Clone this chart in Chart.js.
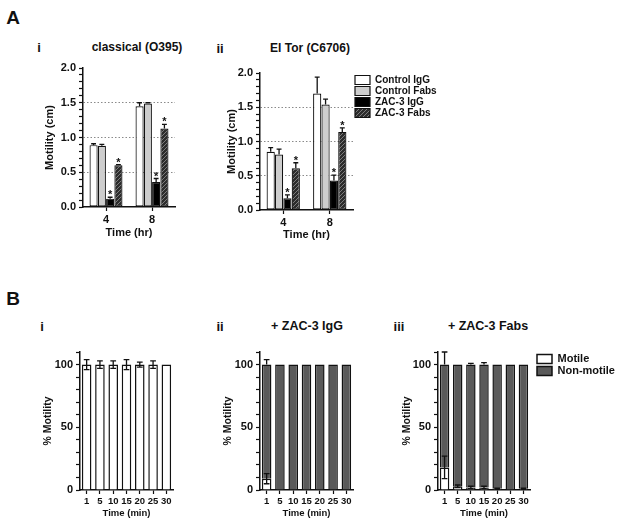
<!DOCTYPE html>
<html>
<head>
<meta charset="utf-8">
<script src="https://cdn.jsdelivr.net/npm/chart.js@4.4.1/dist/chart.umd.min.js"></script>
<style>
  body { margin: 0; background: #fff; width: 624px; height: 525px; position: relative; overflow: hidden;
         font-family: 'Liberation Sans', Arial, sans-serif; color: #111; }
  canvas { position: absolute; }
  .lbl { position: absolute; font-weight: bold; white-space: nowrap; line-height: 1; transform: translate(-50%, -50%); }
</style>
</head>
<body>
<div class="lbl" style="left:13px;top:17px;font-size:19px">A</div>
<div class="lbl" style="left:39px;top:47px;font-size:13px">i</div>
<div class="lbl" style="left:137px;top:47px;font-size:12px">classical (O395)</div>
<div class="lbl" style="left:220px;top:48px;font-size:13px">ii</div>
<div class="lbl" style="left:310px;top:48px;font-size:12px">El Tor (C6706)</div>

<div class="lbl" style="left:13px;top:298px;font-size:19px">B</div>
<div class="lbl" style="left:42px;top:326px;font-size:13px">i</div>
<div class="lbl" style="left:220px;top:326px;font-size:13px">ii</div>
<div class="lbl" style="left:307px;top:326px;font-size:12.5px">+ ZAC-3 IgG</div>
<div class="lbl" style="left:399px;top:326px;font-size:13px">iii</div>
<div class="lbl" style="left:488px;top:326px;font-size:12.5px">+ ZAC-3 Fabs</div>

<canvas id="chartAi" width="140" height="185" style="left:40px;top:58px"></canvas>
<canvas id="chartAii" width="228" height="182" style="left:217px;top:63px"></canvas>
<canvas id="chartBi" width="137" height="180" style="left:40px;top:342px"></canvas>
<canvas id="chartBii" width="137" height="180" style="left:220px;top:342px"></canvas>
<canvas id="chartBiii" width="226" height="180" style="left:398px;top:342px"></canvas>

<script>
// ---- data ----
const timeHr = ['4', '8'];

// panel A i, classical (O395)
const ctrlIgG_i = [0.89, 1.45],  ctrlIgGErr_i = [0.02, 0.05];
const ctrlFab_i = [0.88, 1.49],  ctrlFabErr_i = [0.02, 0.01];
const zacIgG_i  = [0.12, 0.36],  zacIgGErr_i  = [0.02, 0.05];
const zacFab_i  = [0.60, 1.13],  zacFabErr_i  = [0.01, 0.06];

// panel A ii, El Tor (C6706)
const ctrlIgG_ii = [0.85, 1.70], ctrlIgGErr_ii = [0.06, 0.24];
const ctrlFab_ii = [0.81, 1.54], ctrlFabErr_ii = [0.08, 0.08];
const zacIgG_ii  = [0.17, 0.43], zacIgGErr_ii  = [0.05, 0.08];
const zacFab_ii  = [0.61, 1.14], zacFabErr_ii  = [0.08, 0.06];

const timeMin = ['1', '5', '10', '15', '20', '25', '30'];

// panel B i (no antibody)
const motile_Bi    = [100, 100, 100, 100, 100, 100, 100];
const motileErr_Bi = [4, 3, 3, 4, 2, 3, 0];

// panel B ii (+ ZAC-3 IgG)
const motile_Bii       = [9, 0, 0, 0, 0, 0, 0];
const motileErr_Bii    = [4, 0, 0, 0, 0, 0, 0];
const nonMotile_Bii    = [91, 100, 100, 100, 100, 100, 100];
const nonMotileErr_Bii = [4, 0, 0, 0, 0, 0, 0];

// panel B iii (+ ZAC-3 Fabs)
const motile_Biii       = [18, 3, 2, 2, 1, 0, 1];
const motileErr_Biii    = [9, 1, 1, 1, 0.5, 0, 0.5];
const nonMotile_Biii    = [82, 97, 98, 98, 99, 100, 99];
const nonMotileErr_Biii = [10, 0, 1, 1.5, 0, 0, 0];

// ---- shared look ----
Chart.defaults.font.family = "'Liberation Sans', Arial, sans-serif";
Chart.defaults.color = '#111';
Chart.defaults.animation = false;

const INK = '#111';
const GREY_LIGHT = '#cdcdcd';
const GREY_DARK = '#5a5a5a';

function hatch(ctx) {
    const c = document.createElement('canvas');
    c.width = 4; c.height = 4;
    const g = c.getContext('2d');
    g.fillStyle = '#2c2c2c';
    g.fillRect(0, 0, 4, 4);
    g.strokeStyle = '#7c7c7c';
    g.lineWidth = 1;
    g.beginPath();
    g.moveTo(0, 4); g.lineTo(4, 0);
    g.moveTo(-1, 1); g.lineTo(1, -1);
    g.moveTo(3, 5); g.lineTo(5, 3);
    g.stroke();
    return ctx.createPattern(c, 'repeat');
}

// error bars (and significance stars) drawn from each dataset's errors
const errorBars = {
    id: 'errorBars',
    afterDatasetsDraw(chart) {
        const { ctx } = chart;
        const y = chart.scales.y;
        chart.data.datasets.forEach((ds, i) => {
            if (!ds.errors) return;
            const meta = chart.getDatasetMeta(i);
            meta.data.forEach((bar, j) => {
                const e = ds.errors[j];
                if (!e) return;
                const len = y.getPixelForValue(0) - y.getPixelForValue(e);
                const cap = bar.width * 0.3;
                const top = bar.y - len;
                const bot = ds.errBoth ? bar.y + len : bar.y;
                ctx.save();
                ctx.strokeStyle = INK;
                ctx.lineWidth = 1.3;
                ctx.beginPath();
                ctx.moveTo(bar.x, bot); ctx.lineTo(bar.x, top);
                ctx.moveTo(bar.x - cap, top); ctx.lineTo(bar.x + cap, top);
                if (ds.errBoth) { ctx.moveTo(bar.x - cap, bot); ctx.lineTo(bar.x + cap, bot); }
                ctx.stroke();
                if (ds.star) {
                    ctx.fillStyle = INK;
                    ctx.font = "bold 11px 'Liberation Sans', Arial, sans-serif";
                    ctx.textAlign = 'center';
                    ctx.fillText('*', bar.x, top + 1);
                }
                ctx.restore();
            });
        });
    }
};

// puts the legend beside the plot without shrinking it
const legendAt = {
    id: 'legendAt',
    afterLayout(chart, args, opts) {
        const lg = chart.legend;
        if (!lg || !chart.options.plugins.legend.display) return;
        const left = chart.chartArea.right + (opts.dx || 0);
        const top = chart.chartArea.top + (opts.dy || 0);
        lg.left = left; lg.right = left + 130;
        lg.top = top; lg.bottom = top + 60;
    }
};

function isHalf(v) { return Math.abs(v * 2 - Math.round(v * 2)) < 1e-6; }

function axisX(labelsFont, titleText, titleFont, height, titlePad) {
    return {
        afterFit: s => { s.height = height; },
        ticks: { color: INK, font: labelsFont, padding: 2, autoSkip: false, maxRotation: 0 },
        grid: { drawOnChartArea: false, offset: false, tickLength: 4, tickColor: INK, tickWidth: 1.2 },
        border: { color: INK, width: 1.5 },
        title: { display: true, text: titleText, color: INK, font: titleFont, padding: { top: 0, bottom: titlePad } }
    };
}

function axisYA(width, titlePad) {
    return {
        min: 0, max: 2,
        afterFit: s => { s.width = width; },
        ticks: {
            stepSize: 0.1, autoSkip: false, padding: 3, color: INK,
            font: { size: 11, weight: 'bold' },
            callback: v => isHalf(v) ? v.toFixed(1) : ''
        },
        grid: {
            color: c => [0.5, 1, 1.5].some(g => Math.abs(c.tick.value - g) < 1e-6) ? '#8a8a8a' : 'rgba(0,0,0,0)',
            lineWidth: 1, tickColor: INK, tickLength: 4, tickWidth: 1.2
        },
        border: { color: INK, width: 1.5, dash: [1.5, 2] },
        title: { display: true, text: 'Motility (cm)', color: INK, font: { size: 11, weight: 'bold' }, padding: { top: titlePad, bottom: 0 } }
    };
}

function axisYB(width, titlePad) {
    return {
        min: 0, max: 110, stacked: true,
        afterFit: s => { s.width = width; },
        ticks: {
            stepSize: 10, autoSkip: false, padding: 3, color: INK,
            font: { size: 11, weight: 'bold' },
            callback: v => (v % 50 === 0) ? String(v) : ''
        },
        grid: { drawOnChartArea: false, tickColor: INK, tickLength: 4, tickWidth: 1.2 },
        border: { color: INK, width: 1.5 },
        title: { display: true, text: '% Motility', color: INK, font: { size: 10.5, weight: 'bold' }, padding: { top: titlePad, bottom: 0 } }
    };
}

function barSet(label, data, errors, fill, star) {
    return {
        label, data, errors, star,
        backgroundColor: fill, borderColor: INK, borderWidth: 1.2, borderSkipped: false,
        categoryPercentage: 0.72, barPercentage: 0.98
    };
}

function panelA(id, sets, yTitlePad, xHeight, withLegend, paddingRight) {
    const ctx = document.getElementById(id).getContext('2d');
    const fab = hatch(ctx);
    return new Chart(ctx, {
        type: 'bar',
        data: {
            labels: timeHr,
            datasets: [
                barSet('Control IgG', sets[0], sets[1], '#ffffff', false),
                barSet('Control Fabs', sets[2], sets[3], GREY_LIGHT, false),
                barSet('ZAC-3 IgG', sets[4], sets[5], '#000000', true),
                barSet('ZAC-3 Fabs', sets[6], sets[7], fab, true)
            ]
        },
        options: {
            responsive: false, devicePixelRatio: 1,
            layout: { padding: { top: 10, right: paddingRight, left: 0, bottom: 0 } },
            scales: {
                x: axisX({ size: 11, weight: 'bold' }, 'Time (hr)', { size: 11, weight: 'bold' }, xHeight, 3.4),
                y: axisYA(43, yTitlePad)
            },
            plugins: {
                legend: {
                    display: withLegend, position: 'chartArea', align: 'start',
                    labels: { boxWidth: 15, boxHeight: 9, padding: 1, color: INK, font: { size: 10, weight: 'bold' } }
                },
                legendAt: { dx: 1, dy: 1 },
                tooltip: { enabled: false }
            }
        },
        plugins: [errorBars, legendAt]
    });
}

panelA('chartAi', [ctrlIgG_i, ctrlIgGErr_i, ctrlFab_i, ctrlFabErr_i, zacIgG_i, zacIgGErr_i, zacFab_i, zacFabErr_i], 3.4, 36, false, 5);
panelA('chartAii', [ctrlIgG_ii, ctrlIgGErr_ii, ctrlFab_ii, ctrlFabErr_ii, zacIgG_ii, zacIgGErr_ii, zacFab_ii, zacFabErr_ii], 8.4, 35, true, 92);

function stackSet(label, data, errors, fill, both) {
    return {
        label, data, errors, errBoth: both,
        backgroundColor: fill, borderColor: INK, borderWidth: 1.5,
        categoryPercentage: 1.0, barPercentage: 0.72
    };
}

function panelB(id, datasets, yTitlePad, withLegend, paddingRight) {
    const ctx = document.getElementById(id).getContext('2d');
    return new Chart(ctx, {
        type: 'bar',
        data: { labels: timeMin, datasets },
        options: {
            responsive: false, devicePixelRatio: 1,
            layout: { padding: { top: 10, right: paddingRight, left: 0, bottom: 0 } },
            scales: {
                x: Object.assign(axisX({ size: 9.5, weight: 'bold' }, 'Time (min)', { size: 9.5, weight: 'bold' }, 32, 3.3), { stacked: true }),
                y: axisYB(40, yTitlePad)
            },
            plugins: {
                legend: {
                    display: withLegend, position: 'chartArea', align: 'start',
                    labels: { boxWidth: 15, boxHeight: 9, padding: 1, color: INK, font: { size: 11, weight: 'bold' } }
                },
                legendAt: { dx: 6, dy: 0.5 },
                tooltip: { enabled: false }
            }
        },
        plugins: [errorBars, legendAt]
    });
}

panelB('chartBi', [
    stackSet('Motile', motile_Bi, motileErr_Bi, '#ffffff', true)
], 1.7, false, 4);

panelB('chartBii', [
    stackSet('Motile', motile_Bii, motileErr_Bii, '#ffffff', true),
    stackSet('Non-motile', nonMotile_Bii, nonMotileErr_Bii, GREY_DARK, false)
], 1.7, false, 4);

panelB('chartBiii', [
    stackSet('Motile', motile_Biii, motileErr_Biii, '#ffffff', true),
    stackSet('Non-motile', nonMotile_Biii, nonMotileErr_Biii, GREY_DARK, false)
], 2.7, true, 94);
</script>
</body>
</html>
